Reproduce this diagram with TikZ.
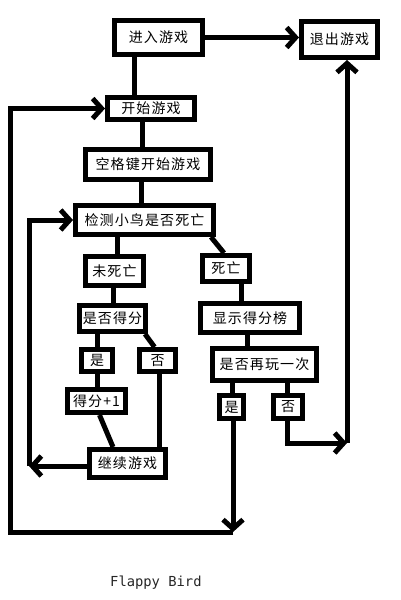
\documentclass[tikz,border=0pt]{standalone}
\usepackage{fontspec}
\usetikzlibrary{arrows.meta,calc}
\newfontfamily\cjk[LetterSpace=8]{Noto Sans CJK SC}
\newfontfamily\titlefont{DejaVu Sans Mono}
\tikzset{
  box/.style={draw=black, line width=5pt, fill=white, inner sep=0pt,
    font=\cjk\fontsize{14}{14}\selectfont, align=center},
  link/.style={line width=5pt},
  arr/.style={line width=5pt, -{Straight Barb[length=9pt,width=20pt]}},
}
\begin{document}
\begin{tikzpicture}[x=1pt,y=-1pt]
\useasboundingbox[fill=white] (0,0) rectangle (400,600);
% nodes
\node[box, minimum width=88pt, minimum height=34pt] (enter) at (158.5,37.5) {进入游戏};
\node[box, minimum width=76pt, minimum height=36pt] (exit) at (339.5,39.5) {退出游戏};
\node[box, minimum width=87pt, minimum height=22pt] (start) at (151,108.5) {开始游戏};
\node[box, minimum width=125pt, minimum height=30pt] (space) at (148,164.5) {空格键开始游戏};
\node[box, minimum width=138pt, minimum height=29pt] (detect) at (144.5,220) {检测小鸟是否死亡};
\node[box, minimum width=58pt, minimum height=29pt] (alive) at (114.5,271) {未死亡};
\node[box, minimum width=47pt, minimum height=26pt] (dead) at (226,268.5) {死亡};
\node[box, minimum width=66pt, minimum height=26pt] (score) at (112.5,318.5) {是否得分};
\node[box, minimum width=99pt, minimum height=29pt] (board) at (250,318) {显示得分榜};
\node[box, minimum width=104pt, minimum height=32pt] (again) at (264.5,364.5) {是否再玩一次};
\node[box, minimum width=31pt, minimum height=22pt] (yesa) at (97,360.5) {是};
\node[box, minimum width=36pt, minimum height=22pt] (noa) at (157.5,360.5) {否};
\node[box, minimum width=58pt, minimum height=23pt] (plus) at (96.5,401) {得分+1};
\node[box, minimum width=76pt, minimum height=28pt] (cont) at (127.5,463.5) {继续游戏};
\node[box, minimum width=24pt, minimum height=23pt] (yesb) at (231.5,407) {是};
\node[box, minimum width=29pt, minimum height=23pt] (nob) at (288,407) {否};
\node[anchor=base west, inner sep=0pt, font=\titlefont\fontsize{13.8}{14}\selectfont, text=black!85] (title) at (110,586) {Flappy Bird};
% helper coordinates
\coordinate (lb) at (29,466);
\coordinate (bb) at (233,532);
\coordinate (ob) at (10,532);
\coordinate (rb) at (347,443);
\coordinate (nc) at (287,443);
% connectors
\draw[arr] (enter.east) -- (enter.east -| exit.west);
\draw[link] (enter.south -| 134,0) -- (start.north -| 134,0);
\draw[link] (start.south -| 142,0) -- (space.north -| 142,0);
\draw[link] (space.south -| 141,0) -- (detect.north -| 141,0);
\draw[link] (detect.south -| 117,0) -- (alive.north -| 117,0);
\draw[link] ($(detect.south east)+(-5,0)$) -- ($(dead.north)+(-2,0)$);
\draw[link] (alive.south -| 113,0) -- (score.north -| 113,0);
\draw[link] (dead.south -| 241,0) -- (board.north -| 241,0);
\draw[link] (board.south -| 247,0) -- (again.north -| 247,0);
\draw[link] (score.south -| 97,0) -- (yesa.north -| 97,0);
\draw[link] ($(score.south east)+(-3,0)$) -- ($(noa.north)+(-3,0)$);
\draw[link] (yesa.south -| 97,0) -- (plus.north -| 97,0);
\draw[link] (noa.south -| 159,0) -- (cont.north -| 159,0);
\draw[link] ($(plus.south)+(3,0)$) -- ($(cont.north west)+(26,0)$);
\draw[arr] (cont.west |- lb) -- (lb);
\draw[arr] (lb) |- (detect.west);
\draw[link] (again.south -| 232,0) -- (yesb.north -| 232,0);
\draw[link] (again.south -| 287,0) -- (nob.north -| 287,0);
\draw[arr] (yesb.south -| bb) -- (bb);
\draw[arr] (bb) -- (ob) |- (start.west);
\draw[arr] (nob.south -| nc) -- (nc) -- (rb);
\draw[arr] (rb) -- (rb |- exit.south);
\end{tikzpicture}
\end{document}
